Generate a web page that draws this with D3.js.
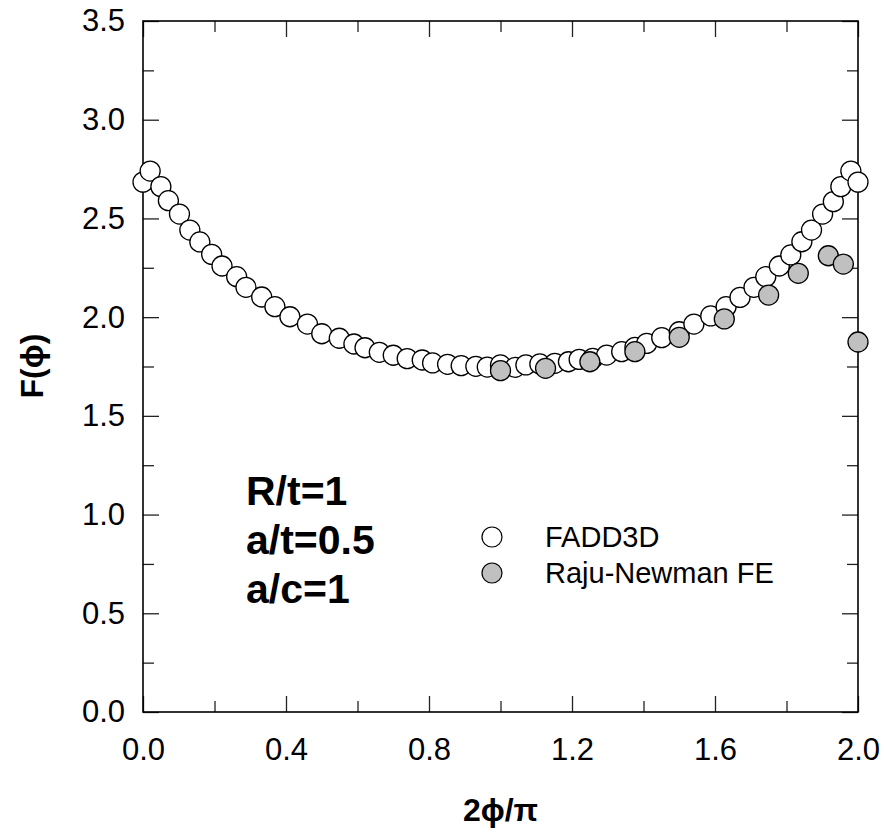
<!DOCTYPE html>
<html lang="en">
<head>
    <meta charset="UTF-8">
    <title>F(phi) vs 2phi/pi</title>
    <script src="https://d3js.org/d3.v7.min.js"></script>
    <style>
        body {
            margin: 0;
            background: white;
            font-family: "Liberation Sans", Arial, sans-serif;
        }
        .tick text {
            font-family: "Liberation Sans", Arial, sans-serif;
            font-size: 31px;
            fill: black;
        }
        .tick line {
            stroke: #222;
            stroke-width: 1.3;
        }
        .note {
            font-weight: bold;
            font-size: 41px;
        }
        .axis_title {
            font-weight: bold;
            font-size: 32px;
        }
        .legend_text {
            font-size: 29px;
        }
    </style>
</head>
<body>
<svg id="chart" width="884" height="834"></svg>
<script>
    // FADD3D results
    let faddX = [0.0, 0.02, 0.05, 0.071, 0.102, 0.131, 0.159, 0.192, 0.221, 0.262,
        0.288, 0.332, 0.369, 0.411, 0.46, 0.5, 0.549, 0.59, 0.621, 0.661,
        0.7, 0.739, 0.781, 0.81, 0.852, 0.89, 0.931, 0.963, 1.0, 1.041,
        1.071, 1.11, 1.152, 1.19, 1.22, 1.258, 1.297, 1.339, 1.376, 1.409,
        1.451, 1.5, 1.541, 1.588, 1.631, 1.67, 1.709, 1.742, 1.78, 1.812,
        1.843, 1.87, 1.901, 1.931, 1.952, 1.98, 2.0]
    let faddY = [2.684, 2.74, 2.661, 2.59, 2.522, 2.441, 2.381, 2.318, 2.259, 2.205,
        2.151, 2.102, 2.053, 2.002, 1.965, 1.916, 1.893, 1.864, 1.845, 1.822,
        1.807, 1.79, 1.783, 1.768, 1.761, 1.754, 1.751, 1.747, 1.758, 1.746,
        1.758, 1.763, 1.766, 1.774, 1.786, 1.791, 1.808, 1.825, 1.847, 1.867,
        1.896, 1.926, 1.965, 2.006, 2.053, 2.1, 2.151, 2.205, 2.259, 2.315,
        2.382, 2.441, 2.522, 2.585, 2.661, 2.74, 2.684]

    // Raju-Newman FE results
    let rajuX = [1.0, 1.126, 1.25, 1.376, 1.5, 1.626, 1.75, 1.833, 1.917, 1.959, 2.0]
    let rajuY = [1.729, 1.741, 1.774, 1.825, 1.898, 1.991, 2.112, 2.222, 2.311, 2.269, 1.874]

    let xMajor = [0.0, 0.4, 0.8, 1.2, 1.6, 2.0]
    let xMinor = [0.2, 0.6, 1.0, 1.4, 1.8]
    let yMajor = [0.0, 0.5, 1.0, 1.5, 2.0, 2.5, 3.0, 3.5]
    let yMinor = [0.25, 0.75, 1.25, 1.75, 2.25, 2.75, 3.25]

    let legendNames = ["FADD3D", "Raju-Newman FE"]
    let legendFills = ["white", "#c0c0c0"]
    let notes = ["R/t=1", "a/t=0.5", "a/c=1"]

    let plotLeft = 143, plotRight = 858, plotTop = 21, plotBottom = 712
    let svg = d3.select("#chart")

    let x = d3.scaleLinear().domain([0, 2]).range([plotLeft, plotRight])
    let y = d3.scaleLinear().domain([0, 3.5]).range([plotBottom, plotTop])

    function addAxis(axis, translate, labels) {
        let g = svg.append("g")
            .attr("transform", translate)
            .call(axis)
        g.select(".domain").remove()
        if (!labels) g.selectAll("text").remove()
        return g
    }

    let fmt = d3.format(".1f")
    // major ticks with labels, bottom and left
    addAxis(d3.axisBottom(x).tickValues(xMajor).tickSize(-16).tickPadding(26).tickFormat(fmt),
        `translate(0,${plotBottom})`, true)
    addAxis(d3.axisLeft(y).tickValues(yMajor).tickSize(-16).tickPadding(18).tickFormat(fmt),
        `translate(${plotLeft},0)`, true)
    // mirrored major ticks, top and right
    addAxis(d3.axisTop(x).tickValues(xMajor).tickSize(-16), `translate(0,${plotTop})`, false)
    addAxis(d3.axisRight(y).tickValues(yMajor).tickSize(-16), `translate(${plotRight},0)`, false)
    // minor ticks on all four sides
    addAxis(d3.axisBottom(x).tickValues(xMinor).tickSize(-11), `translate(0,${plotBottom})`, false)
    addAxis(d3.axisTop(x).tickValues(xMinor).tickSize(-11), `translate(0,${plotTop})`, false)
    addAxis(d3.axisLeft(y).tickValues(yMinor).tickSize(-11), `translate(${plotLeft},0)`, false)
    addAxis(d3.axisRight(y).tickValues(yMinor).tickSize(-11), `translate(${plotRight},0)`, false)

    svg.append("rect")
        .attr("x", plotLeft).attr("y", plotTop)
        .attr("width", plotRight - plotLeft).attr("height", plotBottom - plotTop)
        .attr("fill", "none")
        .attr("stroke", "black")
        .attr("stroke-width", 1.6)

    // data points
    let r = 10
    svg.append("g").selectAll("circle")
        .data(faddX.map((d, i) => [d, faddY[i]]))
        .join("circle")
        .attr("cx", d => x(d[0]))
        .attr("cy", d => y(d[1]))
        .attr("r", r)
        .attr("fill", "white")
        .attr("stroke", "black")
        .attr("stroke-width", 1.3)

    svg.append("g").selectAll("circle")
        .data(rajuX.map((d, i) => [d, rajuY[i]]))
        .join("circle")
        .attr("cx", d => x(d[0]))
        .attr("cy", d => y(d[1]))
        .attr("r", r)
        .attr("fill", "#c0c0c0")
        .attr("stroke", "black")
        .attr("stroke-width", 1.3)

    // legend
    let legend = svg.append("g")
    legendNames.forEach((name, i) => {
        legend.append("circle")
            .attr("cx", 492).attr("cy", 537 + i * 36)
            .attr("r", r)
            .attr("fill", legendFills[i])
            .attr("stroke", "black")
            .attr("stroke-width", 1.2)
        legend.append("text")
            .attr("class", "legend_text")
            .attr("x", 545).attr("y", 547 + i * 36)
            .text(name)
    })

    // case parameters
    notes.forEach((t, i) => {
        svg.append("text")
            .attr("class", "note")
            .attr("x", 246).attr("y", 505 + i * 49)
            .text(t)
    })

    // axis titles
    svg.append("text")
        .attr("class", "axis_title")
        .attr("text-anchor", "middle")
        .attr("x", (plotLeft + plotRight) / 2)
        .attr("y", 821)
        .text("2\u03D5/\u03C0")

    svg.append("text")
        .attr("class", "axis_title")
        .attr("text-anchor", "middle")
        .attr("transform", "translate(43,366) rotate(-90)")
        .text("F(\u03D5)")
</script>
</body>
</html>
